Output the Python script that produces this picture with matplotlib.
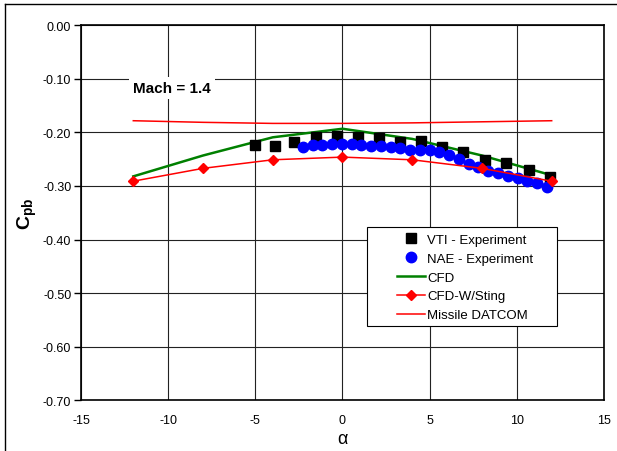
import matplotlib
matplotlib.use('Agg')
import matplotlib.pyplot as plt
from matplotlib.lines import Line2D
from matplotlib.patches import Rectangle

plt.rcParams['font.family'] = ['Liberation Sans', 'DejaVu Sans']
plt.rcParams['mathtext.fontset'] = 'custom'
plt.rcParams['mathtext.rm'] = 'Liberation Sans'
plt.rcParams['mathtext.bf'] = 'Liberation Sans:bold'
plt.rcParams['axes.unicode_minus'] = False

# VTI wind tunnel
vti_alpha = [-5.0, -3.9, -2.8, -1.5, -0.3, 0.9, 2.1, 3.3, 4.5, 5.7, 6.9, 8.2, 9.4, 10.7, 11.9]
vti_cpb = [-0.223, -0.225, -0.218, -0.209, -0.207, -0.209, -0.211, -0.217, -0.215,
           -0.228, -0.237, -0.251, -0.257, -0.271, -0.284]

# NAE wind tunnel
nae_alpha = [-2.28, -1.72, -1.16, -0.60, -0.04, 0.52, 1.08, 1.64, 2.20, 2.76, 3.32, 3.88, 4.44,
             5.00, 5.56, 6.12, 6.68, 7.24, 7.80, 8.36, 8.92, 9.48, 10.04, 10.60, 11.16, 11.72]
nae_cpb = [-0.227, -0.223, -0.223, -0.222, -0.222, -0.222, -0.223, -0.225, -0.226, -0.228,
           -0.229, -0.232, -0.232, -0.233, -0.236, -0.242, -0.249, -0.258, -0.264, -0.272,
           -0.276, -0.281, -0.285, -0.290, -0.294, -0.301]

# computations
cfd_alpha = [-12, -8, -4, 0, 4, 8, 12]
cfd_cpb = [-0.282, -0.243, -0.209, -0.193, -0.212, -0.243, -0.280]
sting_cpb = [-0.291, -0.267, -0.251, -0.246, -0.251, -0.267, -0.291]
datcom_cpb = [-0.178, -0.181, -0.183, -0.183, -0.182, -0.180, -0.178]

fig = plt.figure(figsize=(6.17, 4.52), dpi=100)
ax = fig.add_axes([0.1313, 0.1128, 0.8476, 0.8286])

ax.plot(vti_alpha, vti_cpb, 's', color='black', ms=6.5, label='VTI - Experiment', zorder=4)
ax.plot(nae_alpha, nae_cpb, 'o', color='blue', ms=7.5, mec='blue', label='NAE - Experiment', zorder=5)
ax.plot(cfd_alpha, cfd_cpb, '-', color='green', lw=1.8, label='CFD', zorder=3)
ax.plot(cfd_alpha, sting_cpb, '-D', color='red', lw=1.1, ms=5, label='CFD-W/Sting', zorder=6)
ax.plot(cfd_alpha, datcom_cpb, '-', color='red', lw=1.1, label='Missile DATCOM', zorder=3)

ax.set_xlim(-15, 15)
ax.set_ylim(-0.70, 0.0)
ax.set_xticks(range(-15, 16, 5))
ax.set_yticks([-0.7, -0.6, -0.5, -0.4, -0.3, -0.2, -0.1, 0.0])
ax.set_yticklabels(['%.2f' % v for v in ax.get_yticks()])
ax.tick_params(axis='y', direction='out', length=5, width=1, labelsize=9, pad=2)
ax.tick_params(axis='x', length=0, labelsize=9, pad=10)
ax.grid(True, color='#222222', lw=0.8)
ax.set_axisbelow(True)
for s in ax.spines.values():
    s.set_linewidth(1.2)
    s.set_color('black')

ax.set_xlabel('α', fontsize=13, labelpad=3)
ax.set_ylabel(r'$\mathbf{C}_{\mathbf{pb}}$', fontsize=14, labelpad=3)

ax.text(-9.8, -0.117, 'Mach = 1.4', fontsize=11, fontweight='bold', ha='center', va='center',
        bbox=dict(facecolor='white', edgecolor='none', pad=3), zorder=7)

# legend box drawn separately so the entries sit indented inside it
ax.add_patch(Rectangle((0.547, 0.1976), 0.363, 0.264, transform=ax.transAxes,
                       facecolor='white', edgecolor='black', lw=0.8, zorder=9))
leg = ax.legend(loc='center left', bbox_to_anchor=(0.604, 0.327), fontsize=9.5,
                frameon=False, borderpad=0, handlelength=2.1, labelspacing=0.5,
                handletextpad=0.2, borderaxespad=0)
leg.set_zorder(10)

# outer frame
fig.add_artist(Line2D([5 / 617, 5 / 617], [0, 1 - 5 / 452], color='black', lw=1))
fig.add_artist(Line2D([5 / 617, 1], [1 - 5 / 452, 1 - 5 / 452], color='black', lw=1))

fig.savefig('out.png', dpi=100)
